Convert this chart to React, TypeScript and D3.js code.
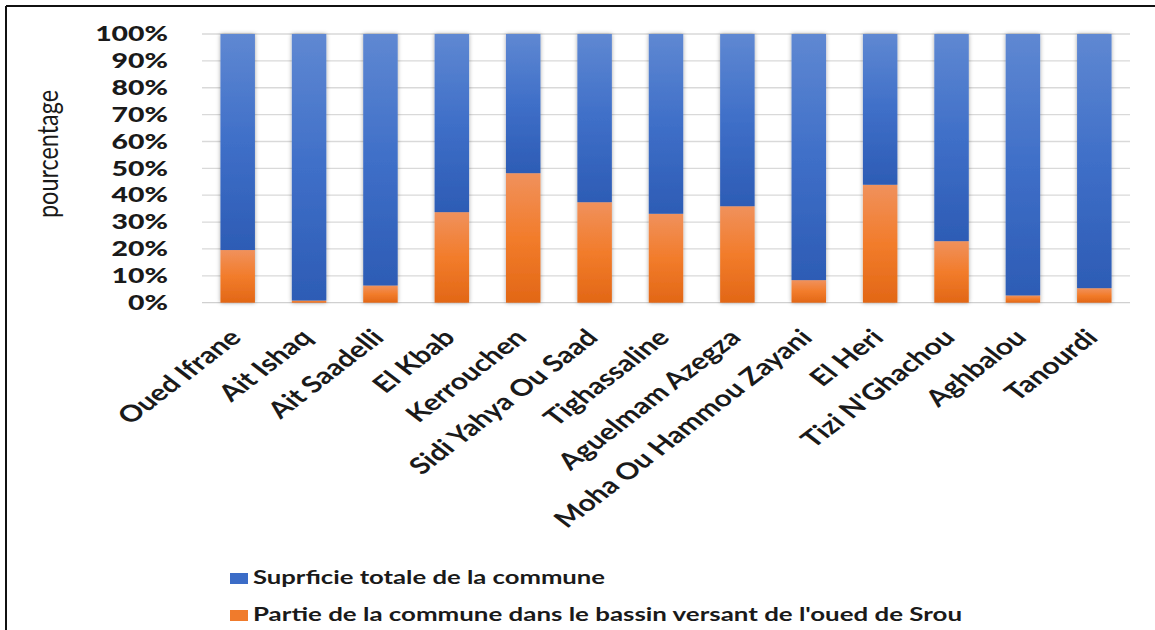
import React from "react";
import * as d3 from "d3";

const communes = [
  "Oued Ifrane",
  "Ait Ishaq",
  "Ait Saadelli",
  "El Kbab",
  "Kerrouchen",
  "Sidi Yahya Ou Saad",
  "Tighassaline",
  "Aguelmam Azegza",
  "Moha Ou Hammou Zayani",
  "El Heri",
  "Tizi N'Ghachou",
  "Aghbalou",
  "Tanourdi",
];
// percentage of the bar: part of commune inside the Srou watershed (orange, bottom)
const partieBassin = [19.6, 0.8, 6.4, 33.7, 48.2, 37.4, 33.1, 35.9, 8.4, 43.9, 22.9, 2.7, 5.4];
// remaining share: total commune area (blue, top)
const superficieTotale = [80.4, 99.2, 93.6, 66.3, 51.8, 62.6, 66.9, 64.1, 91.6, 56.1, 77.1, 97.3, 94.6];
const yTicks = [0, 10, 20, 30, 40, 50, 60, 70, 80, 90, 100];
const seriesNames = [
  "Suprficie totale de la commune",
  "Partie de la commune dans le bassin versant de l'oued de Srou",
];

const W = 1155;
const H = 630;
const SX = 1.42; // horizontal stretch of text glyphs
const SXL = 1.3; // stretch for rotated category labels
const FONT = "Lato, 'Open Sans', sans-serif";

export default function App() {
  const x = d3
    .scaleBand<string>()
    .domain(communes)
    .range([202, 1130])
    .paddingInner(0.517)
    .paddingOuter(0.2585);
  const y = d3.scaleLinear().domain([0, 100]).range([302.7, 34]);

  const rows = communes.map((c, i) => ({
    commune: c,
    partie: partieBassin[i],
    totale: superficieTotale[i],
  }));
  const stack = d3.stack<any>().keys(["partie", "totale"]);
  const layers = stack(rows);
  const fills: Record<string, string> = { partie: "url(#gOrange)", totale: "url(#gBlue)" };

  return (
    <svg
      width={W}
      height={H}
      style={{ position: "absolute", left: 0, top: 0, background: "#fff" }}
      fontFamily={FONT}
    >
      <defs>
        <linearGradient id="gBlue" x1="0" y1="0" x2="0" y2="1">
          <stop offset="0" stopColor="#5f88d2" />
          <stop offset="0.5" stopColor="#3f6fc8" />
          <stop offset="1" stopColor="#2d5cb5" />
        </linearGradient>
        <linearGradient id="gOrange" x1="0" y1="0" x2="0" y2="1">
          <stop offset="0" stopColor="#f0915c" />
          <stop offset="0.5" stopColor="#f27c2b" />
          <stop offset="1" stopColor="#e26716" />
        </linearGradient>
        <filter id="shadow" x="-30%" y="-10%" width="160%" height="120%">
          <feDropShadow dx="0" dy="0" stdDeviation="2.2" floodColor="#000" floodOpacity="0.35" />
        </filter>
      </defs>

      <rect x={0} y={0} width={W} height={H} fill="#fff" />
      {/* frame */}
      <line x1={6} y1={6} x2={W} y2={6} stroke="#111" strokeWidth={2} />
      <line x1={6} y1={6} x2={6} y2={H} stroke="#111" strokeWidth={2} />

      {/* gridlines */}
      {yTicks.map((t) => (
        <line
          key={t}
          x1={202}
          x2={1130}
          y1={y(t)}
          y2={y(t)}
          stroke={t === 0 ? "#d0d0d0" : "#d9d9d9"}
          strokeWidth={1.3}
        />
      ))}

      {/* y tick labels */}
      {yTicks.map((t) => (
        <text
          key={t}
          transform={`translate(168,${y(t)}) scale(${SX},1)`}
          textAnchor="end"
          dy="0.36em"
          fontSize={20}
          fontWeight={900}
          fill="#1a1a1a"
        >
          {t + "%"}
        </text>
      ))}

      {/* y title */}
      <text
        transform={`translate(58,154) scale(${SX},1) rotate(-90)`}
        textAnchor="middle"
        fontSize={20}
        fill="#1a1a1a"
        textLength={128}
        lengthAdjust="spacingAndGlyphs"
      >
        pourcentage
      </text>

      {/* bars */}
      <g filter="url(#shadow)">
        {layers.map((layer) =>
          layer.map((d, i) => (
            <rect
              key={layer.key + i}
              x={x(communes[i])}
              width={x.bandwidth()}
              y={y(d[1])}
              height={Math.max(0, y(d[0]) - y(d[1]))}
              fill={fills[layer.key]}
            />
          ))
        )}
      </g>

      {/* x labels */}
      {communes.map((c) => (
        <text
          key={c}
          transform={`translate(${(x(c) as number) + x.bandwidth() / 2 + 5},339) scale(${SXL},1) rotate(-45)`}
          textAnchor="end"
          fontSize={23}
          fontWeight={700}
          fill="#1a1a1a"
        >
          {c}
        </text>
      ))}

      {/* legend */}
      {seriesNames.map((s, i) => (
        <g key={s}>
          <rect
            x={230}
            y={573 + i * 37}
            width={18}
            height={11}
            fill={i === 0 ? "#3b6cc7" : "#f07b2c"}
          />
          <text
            transform={`translate(253,${584 + i * 37}) scale(${SX},1)`}
            fontSize={19}
            fontWeight={700}
            fill="#1a1a1a"
            textLength={i === 0 ? 352 / SX : 709 / SX}
            lengthAdjust="spacingAndGlyphs"
          >
            {s}
          </text>
        </g>
      ))}
    </svg>
  );
}
